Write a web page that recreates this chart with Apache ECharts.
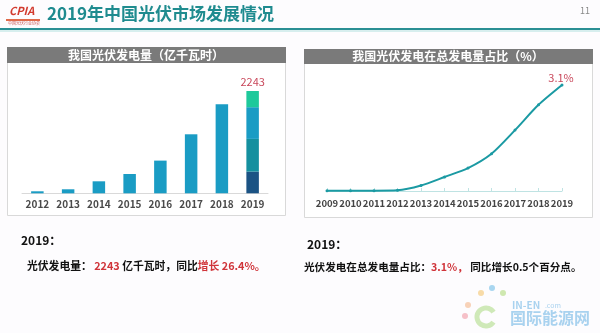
<!DOCTYPE html>
<html>
<head>
<meta charset="utf-8">
<script src="https://cdn.jsdelivr.net/npm/echarts@6/dist/echarts.min.js"></script>
<style>
html,body{margin:0;padding:0;background:#fdfcfe;}
#c{width:600px;height:333px;}
</style>
</head>
<body>
<div id="c"></div>
<script>
// ---- data ----
const genYears = ['2012','2013','2014','2015','2016','2017','2018','2019'];
const genValues = [44, 88, 263, 423, 717, 1294, 1952, 2243];
const gen2019Parts = [476, 717, 695, 355]; // stacked segments of 2019, bottom to top
const shareYears = ['2009','2010','2011','2012','2013','2014','2015','2016','2017','2018','2019'];
const shareValues = [0.01, 0.01, 0.01, 0.02, 0.16, 0.41, 0.67, 1.09, 1.78, 2.52, 3.1];

const FONT = '"Noto Sans CJK SC", "Noto Sans", sans-serif';
const last = genYears.length - 1;
const mainData = genValues.map((v, i) => i < last ? v : '-');
const partColors = ['#1b5384', '#14909f', '#1a9cc4', '#1ec99b'];

const partSeries = gen2019Parts.map((v, k) => ({
  type: 'bar', stack: 'g', xAxisIndex: 0, yAxisIndex: 0, barWidth: 12.5,
  data: genYears.map((y, i) => i === last ? v : '-'),
  itemStyle: { color: partColors[k] },
  label: k === gen2019Parts.length - 1 ? {
    show: true, position: 'top', distance: 4, color: '#c9485b', fontSize: 11,
    fontFamily: FONT, formatter: () => String(genValues[last])
  } : { show: false }
}));

const chart = echarts.init(document.getElementById('c'), null, { renderer: 'canvas' });
chart.setOption({
  backgroundColor: '#fdfcfe',
  animation: false,
  grid: [
    { left: 22, width: 246, top: 56.5, height: 136.8 },
    { left: 327, width: 235, top: 54.2, height: 136.8 }
  ],
  xAxis: [
    { type: 'category', gridIndex: 0, data: genYears,
      axisLine: { lineStyle: { color: '#d9d9d9', width: 1 } }, axisTick: { show: false },
      axisLabel: { color: '#4a4a4a', fontSize: 10, fontWeight: 'bold', fontFamily: FONT, margin: 6, interval: 0 } },
    { type: 'category', gridIndex: 1, data: shareYears, boundaryGap: false,
      axisLine: { lineStyle: { color: '#bfe3e3', width: 1 } },
      axisTick: { show: true, alignWithLabel: true, length: 3, inside: true, lineStyle: { color: '#bfe3e3' } },
      axisLabel: { color: '#444', fontSize: 9.5, fontWeight: 'bold', fontFamily: FONT, margin: 8, interval: 0 } }
  ],
  yAxis: [
    { type: 'value', gridIndex: 0, min: 0, max: 3000, show: false, splitLine: { show: false } },
    { type: 'value', gridIndex: 1, min: 0, max: 4, show: false, splitLine: { show: false } }
  ],
  series: [
    { type: 'bar', stack: 'g', xAxisIndex: 0, yAxisIndex: 0, barWidth: 12.5, data: mainData,
      itemStyle: { color: '#1a9cc4' } },
    ...partSeries,
    { type: 'line', xAxisIndex: 1, yAxisIndex: 1, data: shareValues, smooth: 0.25,
      symbol: 'circle', symbolSize: 3,
      lineStyle: { color: '#1b9aa3', width: 2 }, itemStyle: { color: '#1b9aa3' },
      label: { show: true, position: 'top', distance: 0, offset: [-1, 0], color: '#c9485b', fontSize: 11, fontFamily: FONT,
        formatter: p => p.dataIndex === shareValues.length - 1 ? p.value + '%' : '' } }
  ],
  graphic: [
    // title
    { type: 'text', left: 47, top: 5, style: { text: '2019年中国光伏市场发展情况', fill: '#1f8b8f', font: 'bold 17px ' + FONT } },
    { type: 'rect', shape: { x: 0, y: 28, width: 600, height: 2 }, style: { fill: '#2a8f94' } },
    { type: 'rect', shape: { x: 0, y: 30, width: 600, height: 2 }, style: { fill: '#d7eeee' } },
    { type: 'text', left: 580, top: 6, style: { text: '11', fill: '#888', font: '9px ' + FONT } },
    // logo
    { type: 'text', left: 9, top: 5, style: { text: 'CPIA', fill: '#d23a2e', font: 'bold italic 11px ' + FONT } },
    { type: 'rect', shape: { x: 6, y: 19, width: 34, height: 2 }, style: { fill: '#e06a4a' } },
    { type: 'text', left: 8, top: 21, style: { text: '中国光伏行业协会', fill: '#c55', font: '4px ' + FONT } },
    // panels
    { type: 'rect', z: -1, shape: { x: 7.5, y: 47.5, width: 278, height: 168 }, style: { fill: '#fff', stroke: '#d9d9d9', lineWidth: 1 } },
    { type: 'rect', shape: { x: 7, y: 47, width: 279, height: 16 }, style: { fill: '#7a7a7a' } },
    { type: 'text', x: 146, y: 55, style: { text: '我国光伏发电量（亿千瓦时）', fill: '#fff', font: 'bold 12px ' + FONT, textAlign: 'center', textVerticalAlign: 'middle' } },
    { type: 'rect', z: -1, shape: { x: 304.5, y: 49.5, width: 288, height: 168 }, style: { fill: '#fff', stroke: '#d9d9d9', lineWidth: 1 } },
    { type: 'rect', shape: { x: 304, y: 49, width: 289, height: 15 }, style: { fill: '#7a7a7a' } },
    { type: 'text', x: 448, y: 56.5, style: { text: '我国光伏发电在总发电量占比（%）', fill: '#fff', font: 'bold 12px ' + FONT, textAlign: 'center', textVerticalAlign: 'middle' } },
    // bottom text
    { type: 'text', x: 21, y: 240, style: { text: '2019：', fill: '#111', font: 'bold 12px ' + FONT, textVerticalAlign: 'middle' } },
    { type: 'text', x: 27, y: 266, style: {
      text: '{k|光伏发电量： }{r|2243}{k| 亿千瓦时，同比}{r|增长 26.4%。}',
      textVerticalAlign: 'middle',
      rich: {
        k: { fill: '#111', font: 'bold 10.8px ' + FONT },
        r: { fill: '#d0343a', font: 'bold 10.8px ' + FONT }
      } } },
    { type: 'text', x: 307, y: 244, style: { text: '2019：', fill: '#111', font: 'bold 12px ' + FONT, textVerticalAlign: 'middle' } },
    { type: 'text', x: 304, y: 267, style: {
      text: '{k|光伏发电在总发电量占比：}{r|3.1%，}{k| 同比增长0.5个百分点。}',
      textVerticalAlign: 'middle',
      rich: {
        k: { fill: '#111', font: 'bold 10.6px ' + FONT },
        r: { fill: '#d0343a', font: 'bold 10.6px ' + FONT }
      } } },
    // watermark
    { type: 'arc', shape: { cx: 486, cy: 317, r: 9, startAngle: 0.6, endAngle: 5.7 }, style: { fill: 'none', stroke: '#cfe9b8', lineWidth: 5 } },
    { type: 'circle', shape: { cx: 468, cy: 305, r: 3 }, style: { fill: '#f8d2b8' } },
    { type: 'circle', shape: { cx: 481, cy: 293, r: 3 }, style: { fill: '#f8dba8' } },
    { type: 'circle', shape: { cx: 492, cy: 288, r: 3 }, style: { fill: '#a9d6f0' } },
    { type: 'circle', shape: { cx: 503, cy: 293, r: 3 }, style: { fill: '#cfe8b0' } },
    { type: 'circle', shape: { cx: 465, cy: 316, r: 3 }, style: { fill: '#f6c0c8' } },
    { type: 'text', left: 512, top: 300, style: { text: 'IN-EN', fill: '#a9d2ef', font: 'bold 10px ' + FONT } },
    { type: 'text', left: 545, top: 302, style: { text: '.com', fill: '#a9d2ef', font: '7px ' + FONT } },
    { type: 'text', left: 510, top: 310, style: { text: '国际能源网', fill: '#a9d2ef', font: 'bold 16px ' + FONT } }
  ]
});
</script>
</body>
</html>
